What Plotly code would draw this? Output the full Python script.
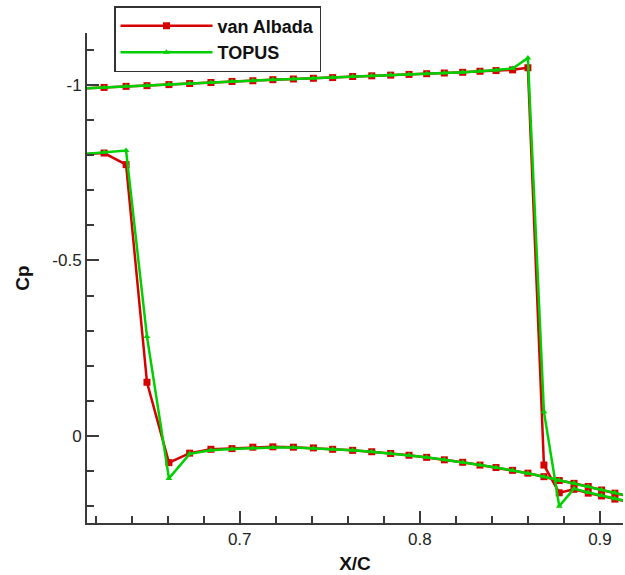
import plotly.graph_objects as go

# Chordwise stations (x/c) shared by both surfaces and both schemes
x_c = [0.6130, 0.6247, 0.6369, 0.6485, 0.6607, 0.6722, 0.6840, 0.6957, 0.7073, 0.7184,
       0.7298, 0.7409, 0.7516, 0.7627, 0.7733, 0.7838, 0.7940, 0.8038, 0.8136, 0.8238,
       0.8334, 0.8423, 0.8515, 0.8600, 0.8689, 0.8774, 0.8856, 0.8935, 0.9009, 0.9083,
       0.9157]

# Pressure coefficient, upper surface
cp_upper_albada = [-0.990, -0.993, -0.996, -0.998, -1.001, -1.004, -1.007, -1.010, -1.012, -1.015,
                   -1.017, -1.019, -1.021, -1.024, -1.026, -1.028, -1.030, -1.032, -1.034, -1.036,
                   -1.039, -1.041, -1.043, -1.049, 0.083, 0.162, 0.152, 0.163, 0.171, 0.180,
                   0.188]
cp_upper_topus = [-0.990, -0.993, -0.996, -0.998, -1.001, -1.004, -1.007, -1.010, -1.012, -1.015,
                  -1.017, -1.019, -1.021, -1.024, -1.026, -1.028, -1.030, -1.032, -1.034, -1.036,
                  -1.039, -1.042, -1.047, -1.077, -0.069, 0.200, 0.150, 0.161, 0.170, 0.179,
                  0.187]

# Pressure coefficient, lower surface
cp_lower_albada = [-0.803, -0.806, -0.773, -0.153, 0.076, 0.049, 0.038, 0.036, 0.032, 0.031,
                   0.032, 0.034, 0.038, 0.041, 0.045, 0.050, 0.055, 0.061, 0.068, 0.075,
                   0.083, 0.090, 0.098, 0.106, 0.116, 0.127, 0.135, 0.144, 0.154, 0.163,
                   0.172]
cp_lower_topus = [-0.803, -0.808, -0.813, -0.283, 0.121, 0.051, 0.041, 0.037, 0.034, 0.033,
                  0.033, 0.035, 0.038, 0.041, 0.045, 0.050, 0.055, 0.061, 0.068, 0.075,
                  0.083, 0.090, 0.098, 0.106, 0.116, 0.126, 0.134, 0.143, 0.153, 0.162,
                  0.171]

x_tick_vals = [0.7, 0.8, 0.9]
x_tick_text = ["0.7", "0.8", "0.9"]
y_tick_vals = [-1, -0.5, 0]
y_tick_text = ["-1", "-0.5", "0"]

FONT = "Liberation Sans, Arial, sans-serif"
RED = "rgb(214,0,0)"
GREEN = "rgb(0,208,0)"
AXIS = "#3a3a3a"


def surface_path(upper, lower):
    # one polyline per scheme: upper surface, a break, then lower surface
    return x_c + [None] + x_c, upper + [None] + lower


fig = go.Figure()

xs, ys = surface_path(cp_upper_albada, cp_lower_albada)
fig.add_trace(go.Scatter(
    x=xs, y=ys, mode="lines+markers", name="van Albada",
    line=dict(color=RED, width=2.5),
    marker=dict(symbol="square", size=7, color=RED),
))

xs, ys = surface_path(cp_upper_topus, cp_lower_topus)
fig.add_trace(go.Scatter(
    x=xs, y=ys, mode="lines+markers", name="TOPUS",
    line=dict(color=GREEN, width=2.5),
    marker=dict(symbol="triangle-up", size=6, color=GREEN),
))

axis_common = dict(
    showline=True, linecolor=AXIS, linewidth=2,
    ticks="inside", ticklen=12, tickwidth=1.5, tickcolor=AXIS,
    showgrid=False, zeroline=False, mirror=False,
    tickfont=dict(family=FONT, size=17, color="#222"),
)

fig.update_xaxes(
    range=[0.6152, 0.9128],
    tickmode="array", tickvals=x_tick_vals, ticktext=x_tick_text,
    minor=dict(tickmode="linear", tick0=0, dtick=0.02, ticks="inside",
               ticklen=7, tickwidth=1.5, tickcolor=AXIS, showgrid=False),
    title=dict(text="X/C", font=dict(family=FONT, size=19, color="#111", weight="bold"),
               standoff=8),
    **axis_common,
)

fig.update_yaxes(
    range=[0.248, -1.148],
    tickmode="array", tickvals=y_tick_vals, ticktext=y_tick_text,
    minor=dict(tickmode="linear", tick0=0, dtick=0.1, ticks="inside",
               ticklen=7, tickwidth=1.5, tickcolor=AXIS, showgrid=False),
    title=dict(text="Cp", font=dict(family=FONT, size=19, color="#111", weight="bold"),
               standoff=18),
    **axis_common,
)

fig.update_layout(
    width=625, height=575,
    margin=dict(l=87, r=2, t=33, b=52),
    paper_bgcolor="white", plot_bgcolor="white",
    showlegend=True,
    legend=dict(
        x=0.0504, y=1.055, xanchor="left", yanchor="top",
        bgcolor="white", bordercolor="#333", borderwidth=1.5,
        font=dict(family=FONT, size=18, color="#111", weight="bold"),
        itemwidth=92, tracegroupgap=0,
    ),
)

fig.write_html("out.html")
